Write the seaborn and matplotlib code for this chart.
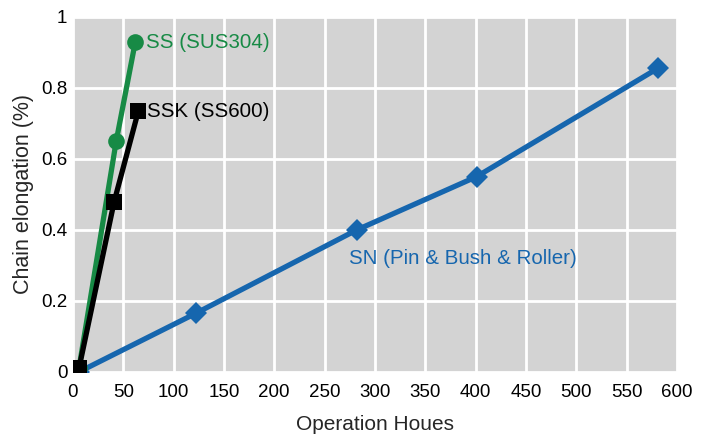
import matplotlib
matplotlib.use('Agg')
import matplotlib.pyplot as plt
import seaborn as sns
import pandas as pd
import numpy as np

# data
sn_hours = [6, 122, 282, 401, 581]
sn_elong = [0.0, 0.165, 0.40, 0.55, 0.855]

ss_hours = [6, 43, 62]
ss_elong = [0.01, 0.65, 0.93]

ssk_hours = [6, 41, 65]
ssk_elong = [0.01, 0.48, 0.735]

x_ticks = list(range(0, 601, 50))
y_ticks = [0, 0.2, 0.4, 0.6, 0.8, 1]
y_ticklabels = ['0', '0.2', '0.4', '0.6', '0.8', '1']

blue = '#1666AE'
green = '#178A45'
black = '#000000'

sns.set_style('darkgrid', {'axes.facecolor': '#D3D3D3', 'grid.color': 'white'})
plt.rcParams['font.family'] = ['Liberation Sans', 'DejaVu Sans']

fig = plt.figure(figsize=(7.08, 4.34), dpi=100)
ax = fig.add_axes([0.103, 0.143, 0.853, 0.818])

sn = pd.DataFrame({'hours': sn_hours, 'elong': sn_elong})
ss = pd.DataFrame({'hours': ss_hours, 'elong': ss_elong})
ssk = pd.DataFrame({'hours': ssk_hours, 'elong': ssk_elong})

sns.lineplot(data=sn, x='hours', y='elong', color=blue, lw=3.8, marker='D',
             markersize=11, markeredgewidth=0, ax=ax)
sns.lineplot(data=ss, x='hours', y='elong', color=green, lw=3.8, marker='o',
             markersize=12, markeredgewidth=0, ax=ax)
sns.lineplot(data=ssk, x='hours', y='elong', color=black, lw=3.8, marker='s',
             markersize=11, markeredgewidth=0, ax=ax)

ax.text(73, 0.928, 'SS (SUS304)', color=green, fontsize=14.8, va='center')
ax.text(74, 0.733, 'SSK (SS600)', color=black, fontsize=14.8, va='center')
ax.text(274, 0.32, 'SN (Pin & Bush & Roller)', color=blue, fontsize=14.8, va='center')

ax.set_xlim(0, 600)
ax.set_ylim(0, 1)
ax.set_xticks(x_ticks)
ax.set_yticks(y_ticks)
ax.set_yticklabels(y_ticklabels)
ax.grid(True, color='white', lw=2)
ax.tick_params(axis='both', length=0, labelsize=13.5, colors='black')
ax.tick_params(axis='x', pad=9)
ax.tick_params(axis='y', pad=4)
for s in ax.spines.values():
    s.set_visible(False)

ax.set_xlabel('Operation Houes', fontsize=15, labelpad=10)
ax.set_ylabel('Chain elongation (%)', fontsize=15.5, labelpad=5)

fig.savefig('out.png', dpi=100)
